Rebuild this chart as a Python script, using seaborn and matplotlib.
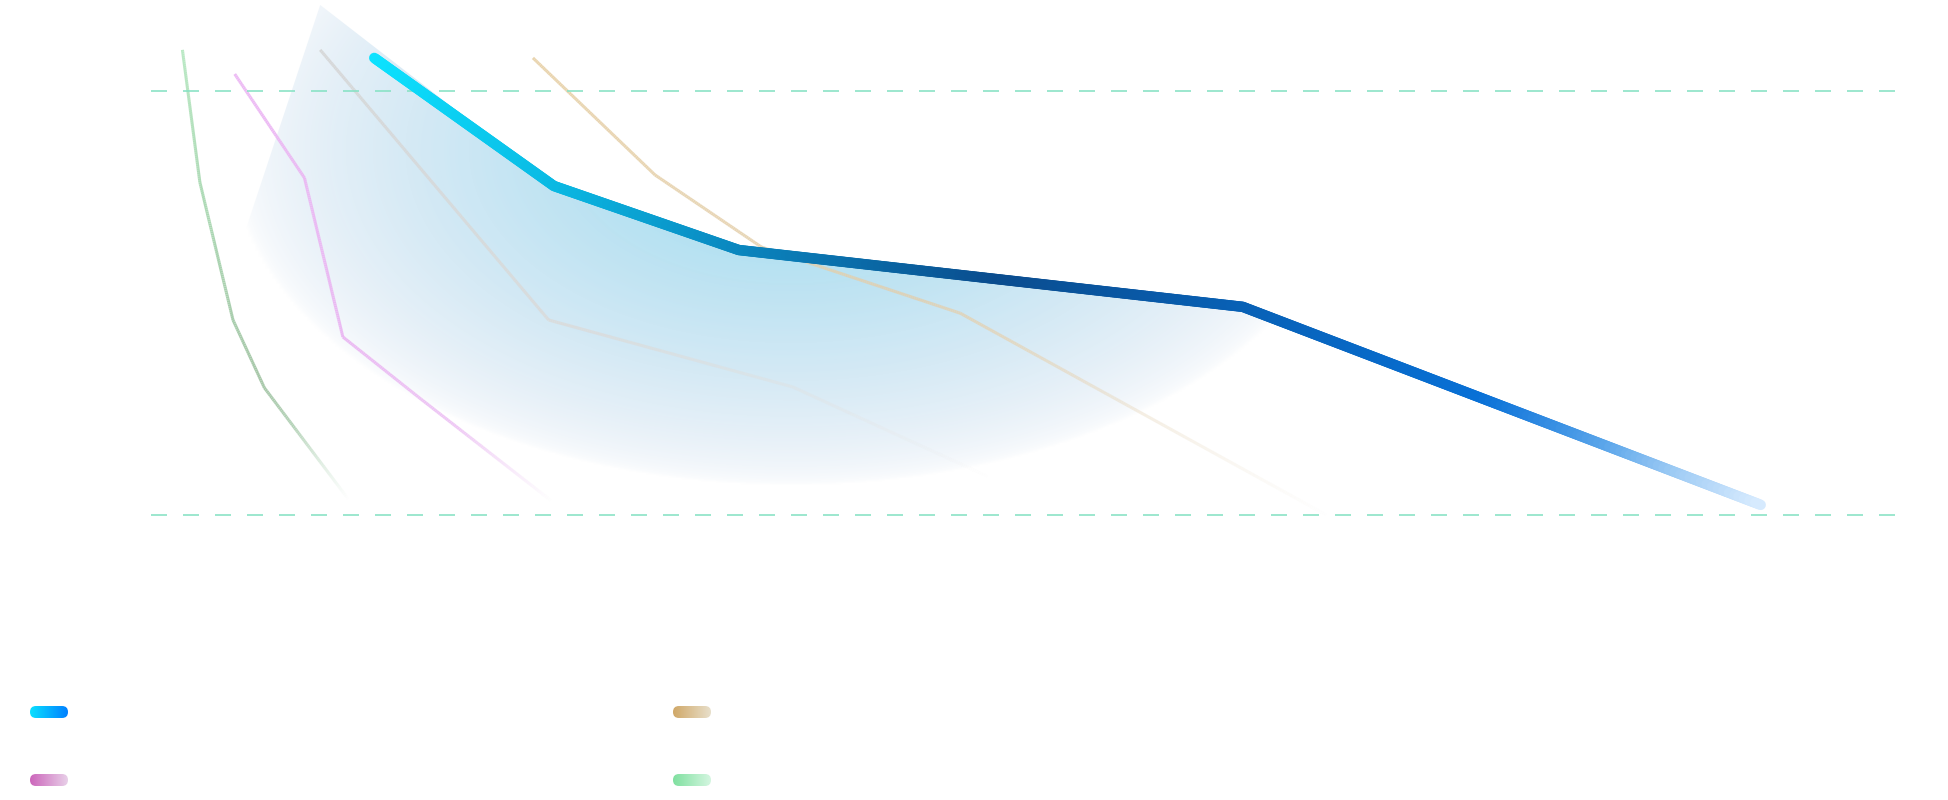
import numpy as np
import matplotlib
matplotlib.use("Agg")
import matplotlib.pyplot as plt
import seaborn as sns
from matplotlib.collections import LineCollection
from matplotlib.colors import LinearSegmentedColormap, to_rgb
from matplotlib.patches import FancyBboxPatch

# series values (x: 0-100 between the dashed guides, y: lower guide = 0, upper guide = 100)
blue_x = [12.8, 23.1, 33.7, 62.6, 92.3]
blue_y = [107.8, 77.6, 62.5, 49.1, 2.4]
tan_x = [21.9, 28.9, 35.0, 46.4, 67.4]
tan_y = [107.8, 80.2, 63.2, 47.6, 0.0]
gray_x = [9.7, 22.8, 36.8, 52.8]
gray_y = [109.7, 46.0, 30.2, 0.0]
pink_x = [4.8, 8.8, 11.0, 15.4, 24.0]
pink_y = [104.0, 79.5, 42.0, 27.6, 0.0]
green_x = [1.8, 2.8, 4.7, 6.5, 12.0]
green_y = [109.7, 78.5, 46.0, 30.0, 0.0]
area_x = [0.0, 9.7, 23.1, 33.7, 62.6, 92.3]
area_y = [0.0, 120.3, 77.6, 62.5, 49.1, 2.4]
ref_levels = [0, 100]
ref_span = [0, 100]

legend_swatches = [("#0ae0ff", "#0080ff"), ("#d0a868", "#e8dfca"),
                   ("#cc66bb", "#e8cfe8"), ("#80e0a0", "#d4f6e0")]

W, H = 1948, 800
fig = plt.figure(figsize=(W / 100, H / 100), dpi=100)
ax = fig.add_axes([0, 0, 1, 1])
ax.axis("off")
XLIM = (-8.66, 103.04)
YLIM = (-67.2, 121.46)
ax.set_xlim(*XLIM)
ax.set_ylim(*YLIM)


def to_px(x, y):
    px = 151 + np.asarray(x) * 17.44
    py = 515 - np.asarray(y) * 4.24
    return px, py


def fade_line(line, stops, alphas, lw, z, by="length", cap="butt"):
    xy = line.get_xydata()
    line.remove()
    pix = ax.transData.transform(xy)
    pts = []
    for i in range(len(xy) - 1):
        n = max(int(np.hypot(*(pix[i + 1] - pix[i])) / 2), 1)
        f = np.linspace(0, 1, n, endpoint=False)
        pts.append(xy[i] + f[:, None] * (xy[i + 1] - xy[i]))
    pts.append(xy[-1:])
    pts = np.vstack(pts)
    segs = np.stack([pts[:-1], pts[1:]], axis=1)
    p = ax.transData.transform(pts)
    if by == "x":
        t = (p[:, 0] - p[0, 0]) / (p[-1, 0] - p[0, 0])
    else:
        d = np.hypot(*np.diff(p, axis=0).T)
        t = np.concatenate([[0], np.cumsum(d)]) / d.sum()
    tm = (t[:-1] + t[1:]) / 2
    cmap = LinearSegmentedColormap.from_list("g", stops)
    cols = cmap(tm)
    cols[:, 3] = np.interp(tm, alphas[0], alphas[1])
    lc = LineCollection(segs, colors=cols, linewidths=lw, capstyle=cap,
                        joinstyle="round", zorder=z)
    ax.add_collection(lc)


# area with radial glow
poly = ax.fill_between(area_x, area_y, 0, facecolor="none", edgecolor="none")
gx = np.linspace(-1, 95, 480)
gy = np.linspace(-2, 123, 320)
GX, GY = np.meshgrid(gx, gy)
PX, PY = to_px(GX, GY)
r = np.sqrt(((PX - 790) / 560) ** 2 + ((PY - 150) / 335) ** 2)
A = np.clip(1 - r, 0, 1) ** 0.5
inner = np.array(to_rgb("#9fdcf0"))
outer = np.array(to_rgb("#c6d8ec"))
k = np.clip(r, 0, 1)[..., None] ** 1.5
img = np.dstack([inner * (1 - k) + outer * k, A])
im = ax.imshow(img, extent=(gx[0], gx[-1], gy[0], gy[-1]), origin="lower",
               aspect="auto", interpolation="bilinear", zorder=1)
im.set_clip_path(poly.get_paths()[0], ax.transData)
ax.set_xlim(*XLIM)
ax.set_ylim(*YLIM)

# thin series
thin = [
    (green_x, green_y, ["#b7e8c2", "#a8d6b0", "#a2c4a4", "#cfe9d5"], ([0, 0.78, 0.96, 1], [0.95, 0.95, 0, 0])),
    (pink_x, pink_y, ["#ecb8f4", "#eab4f2", "#f0d0f6"], ([0, 0.75, 0.96, 1], [0.95, 0.9, 0, 0])),
    (gray_x, gray_y, ["#d4d4d4", "#dedad6", "#eeeae6"], ([0, 0.4, 0.9, 1], [0.85, 0.75, 0, 0])),
    (tan_x, tan_y, ["#e8d2aa", "#e2cfae", "#efe4d2"], ([0, 0.6, 1.0], [0.95, 0.8, 0.0])),
]
for xs, ys, stops, alphas in thin:
    sns.lineplot(x=xs, y=ys, sort=False, estimator=None, ax=ax)
    fade_line(ax.lines[-1], stops, alphas, lw=2.2, z=2)

ax.hlines(ref_levels, ref_span[0], ref_span[1], colors="#86e2c4",
          linewidth=1.44, linestyles=(0, (8, 8)), alpha=0.8, zorder=3)

# main series
sns.lineplot(x=blue_x, y=blue_y, sort=False, estimator=None, ax=ax)
blue_stops = [(0, "#0ce2ff"), (0.13, "#0ab9e3"), (0.26, "#0a88c0"), (0.45, "#0a4c8e"),
              (0.62, "#0860b4"), (0.80, "#0870d6"), (0.84, "#2a86e0"), (0.89, "#5aa5ea"),
              (0.94, "#9ccaf4"), (1, "#d6eafe")]
fade_line(ax.lines[-1], blue_stops, ([0, 1], [1, 1]), lw=7.5, z=4, by="x", cap="round")

ax.set_xlim(*XLIM)
ax.set_ylim(*YLIM)

# legend swatches
lax = fig.add_axes([0, 0, 1, 1], zorder=5)
lax.axis("off")
pill_pos = [(30, 712), (673, 712), (30, 780), (673, 780)]
for (x0, yc), (c0, c1) in zip(pill_pos, legend_swatches):
    patch = FancyBboxPatch((x0, yc - 6), 38, 12, boxstyle="round,pad=0,rounding_size=6",
                           fc="none", ec="none")
    lax.add_patch(patch)
    t = np.linspace(0, 1, 64)[:, None]
    row = np.array(to_rgb(c0)) * (1 - t) + np.array(to_rgb(c1)) * t
    gim = lax.imshow(row[None, :, :], extent=(x0, x0 + 38, yc + 6, yc - 6),
                     aspect="auto", interpolation="bilinear")
    gim.set_clip_path(patch)
lax.set_xlim(0, W)
lax.set_ylim(H, 0)

fig.savefig("out.png", dpi=100, facecolor="white")
